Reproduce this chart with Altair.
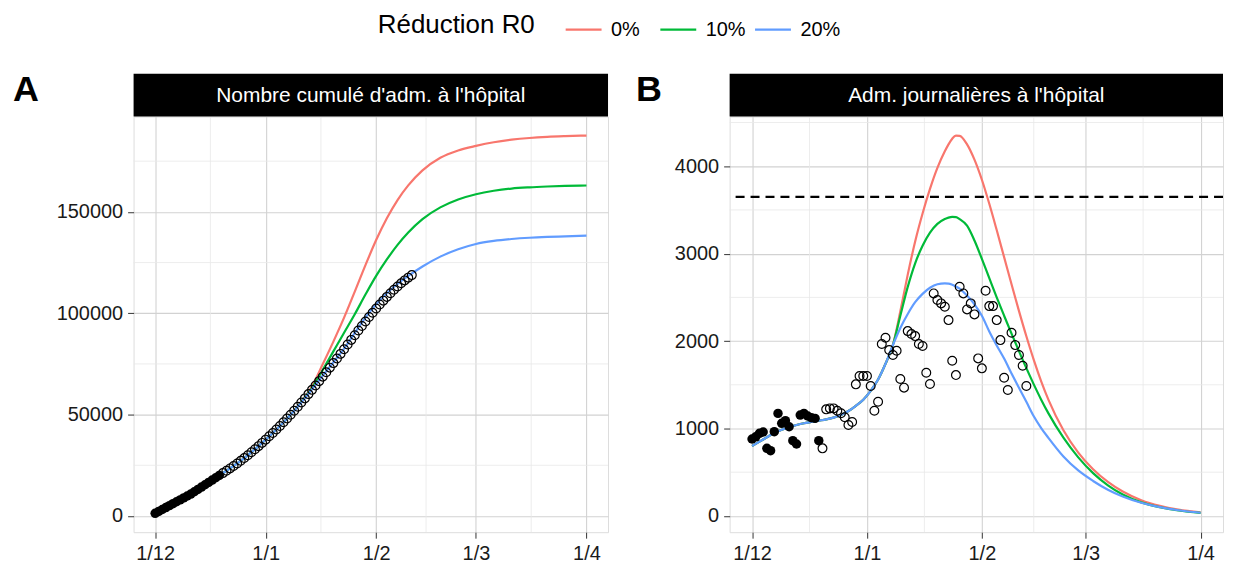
import altair as alt
import pandas as pd

FONT = "Liberation Sans, Arial, Helvetica, sans-serif"
START = pd.Timestamp("2020-12-01")

SCENARIOS = ["0%", "10%", "20%"]
COLORS = ["#F8766D", "#00BA38", "#619CFF"]

# ---------------- Panel B : daily hospital admissions (observed) ----------------
daily_filled = [880, 905, 945, 960, 773, 746, 964, 1173, 1059, 1090, 1020, 861, 823,
                1154, 1173, 1143, 1124, 1116, 861]
daily_open = [773, 1219, 1230, 1230, 1203, 1174, 1128, 1040, 1074, 1505, 1600, 1600,
              1600, 1486, 1203, 1306, 1966, 2038, 1897, 1840, 1890, 1566, 1467, 2114,
              2080, 2057, 1966, 1943, 1638, 1509, 2545, 2469, 2431, 2392, 2240, 1775,
              1611, 2621, 2545, 2362, 2431, 2305, 1802, 1688, 2575, 2400, 2400, 2240,
              2011, 1581, 1440, 2095, 1954, 1840, 1718, 1486]

# ---------------- Panel B : model curves (daily) ----------------
b_days_shared = [0, 2, 4, 6, 8, 10, 12, 14, 16, 18, 20, 22, 24, 26, 28, 30, 32, 34, 36, 38]
b_shared = [800, 850, 900, 950, 985, 1015, 1040, 1060, 1075, 1090, 1105, 1125, 1155,
            1200, 1260, 1330, 1430, 1560, 1740, 1955]
b_days_late = [40, 42, 44, 46, 48, 50, 52, 53, 54, 55, 56, 58, 60, 62, 64, 66, 68, 70,
               72, 74, 76, 78, 80, 84, 88, 92, 96, 100, 105, 110, 115, 121]
b_red = [2340, 2760, 3140, 3460, 3740, 3980, 4170, 4250, 4315, 4350, 4348, 4250, 4075,
         3845, 3570, 3270, 2960, 2650, 2345, 2055, 1785, 1540, 1325, 980, 725, 535, 390,
         280, 180, 115, 72, 40]
b_green = [2290, 2620, 2890, 3090, 3240, 3340, 3395, 3412, 3420, 3418, 3395, 3320, 3150,
           2940, 2720, 2500, 2290, 2085, 1885, 1690, 1505, 1330, 1170, 895, 670, 490,
           350, 245, 155, 100, 62, 34]
b_blue = [2150, 2310, 2445, 2540, 2610, 2650, 2660, 2658, 2645, 2625, 2600, 2520, 2420,
          2290, 2110, 1950, 1800, 1630, 1465, 1305, 1140, 1005, 890, 680, 520, 400, 300,
          222, 150, 100, 65, 36]
threshold_b = [3650]

# ---------------- Panel A : cumulative admissions (observed) ----------------
cum_obs = [1300, 2250, 3200, 4150, 5100, 6050, 7000, 7950, 8900, 9850, 10800, 11950,
           13100, 14250, 15400, 16550, 17700, 18850, 20000, 21150, 22300, 23450, 24650,
           25900, 27200, 28550, 29950, 31400, 32900, 34450, 36050, 37650, 39300, 40950,
           42650, 44400, 46200, 48050, 49950, 51900, 53900, 55950, 58000, 60100, 62200,
           64350, 66500, 68700, 70900, 73150, 75400, 77650, 79950, 82250, 84550, 86850,
           89150, 91450, 93700, 95950, 98150, 100250, 102300, 104300, 106200, 108050,
           109850, 111550, 113200, 114750, 116200, 117550, 118800]
n_filled = 19

# ---------------- Panel A : model curves (cumulative) ----------------
a_days_shared = [0, 5, 10, 15, 20, 25, 30, 35, 38]
a_shared = [1300, 6050, 10800, 16550, 22300, 28550, 36050, 44400, 49950]
a_days_late = [41, 44, 47, 50, 53, 56, 59, 62, 65, 68, 71, 75, 80, 85, 90, 95, 100, 105,
               110, 115, 121]
a_red = [56500, 64000, 74800, 86000, 97800, 110650, 123730, 136090, 146830, 155830,
         163030, 170430, 176680, 180280, 182530, 184330, 185580, 186430, 186980, 187330,
         187630]
a_green = [56300, 63200, 72000, 81200, 90400, 99500, 109200, 118400, 126500, 133700,
           139800, 146400, 152200, 156100, 158700, 160400, 161500, 162100, 162500,
           162800, 163000]
a_blue = [56000, 62500, 69200, 75800, 82500, 90300, 97900, 104400, 109860, 114420,
          118380, 123060, 127910, 131560, 134160, 135660, 136610, 137235, 137635,
          137910, 138300]

# ---------------- axes helpers ----------------
x_tick_dates = ["2020-12-01", "2021-01-01", "2021-02-01", "2021-03-01", "2021-04-01"]
x_minor_dates = ["2020-12-16T12:00:00Z", "2021-01-16T12:00:00Z", "2021-02-15T00:00:00Z",
                 "2021-03-16T12:00:00Z"]
x_domain_dates = ["2020-11-24T22:48:00Z", "2021-04-07T01:12:00Z"]
a_y_ticks = [0, 50000, 100000, 150000]
a_y_minor = [25000, 75000, 125000, 175000]
a_y_domain = [-8000, 197000]
b_y_ticks = [0, 1000, 2000, 3000, 4000]
b_y_minor = [500, 1500, 2500, 3500, 4500]
b_y_domain = [-186, 4568]


def ms(s):
    t = pd.Timestamp(s)
    if t.tzinfo is None:
        t = t.tz_localize("UTC")
    return int(t.timestamp() * 1000)


def to_dates(days):
    return [(START + pd.Timedelta(days=int(d))).strftime("%Y-%m-%d") for d in days]


def model_frame(days_shared, shared, days_late, series):
    rows = []
    for name, vals in zip(SCENARIOS, series):
        for d, v in zip(days_shared, shared):
            rows.append({"date": to_dates([d])[0], "value": v, "scenario": name})
        for d, v in zip(days_late, vals):
            rows.append({"date": to_dates([d])[0], "value": v, "scenario": name})
    return pd.DataFrame(rows)


GRID_MAJOR = "#d2d2d2"
GRID_MINOR = "#e9e9e9"
H = 417

legend = alt.Legend(
    orient="none", legendX=245, legendY=-107, direction="horizontal",
    titleOrient="left", titleFontSize=26, titleFontWeight="normal", titleColor="black",
    titleFont=FONT, labelFontSize=20, labelFont=FONT, labelColor="black",
    symbolType="stroke", symbolSize=1296, symbolStrokeWidth=2.2, labelOffset=8,
    columnPadding=4, gridAlign="all", titlePadding=29, padding=0,
)


def panel(letter, strip, W, obs_vals, model_df, y_ticks, y_minor, y_domain, hline=None):
    xscale = alt.Scale(type="utc", domain=[ms(d) for d in x_domain_dates], nice=False)
    yscale = alt.Scale(domain=y_domain, nice=False, zero=False)
    xaxis = alt.Axis(values=[ms(d) for d in x_tick_dates], format="%-d/%-m", title=None,
                     labelFontSize=20, labelFont=FONT, labelColor="#1a1a1a",
                     tickSize=6, tickColor="#333333", labelPadding=5, domain=False,
                     grid=True, gridColor=GRID_MAJOR, gridWidth=1.1, labelFlush=False,
                     labelOverlap=False)
    yaxis = alt.Axis(values=y_ticks, format="d", title=None, labelFontSize=20,
                     labelFont=FONT, labelColor="#1a1a1a", tickSize=6,
                     tickColor="#333333", labelPadding=5, domain=False, grid=True,
                     gridColor=GRID_MAJOR, gridWidth=1.1)

    minor_x = alt.Chart(pd.DataFrame({"date": x_minor_dates})).mark_rule(
        color=GRID_MINOR, strokeWidth=0.8).encode(
        x=alt.X("date:T", scale=xscale, axis=xaxis))
    minor_y = alt.Chart(pd.DataFrame({"value": y_minor})).mark_rule(
        color=GRID_MINOR, strokeWidth=0.8).encode(
        y=alt.Y("value:Q", scale=yscale, axis=yaxis))

    lines = alt.Chart(model_df).mark_line(strokeWidth=2.2, interpolate="monotone").encode(
        x=alt.X("date:T", scale=xscale, axis=xaxis),
        y=alt.Y("value:Q", scale=yscale, axis=yaxis),
        color=alt.Color("scenario:N", scale=alt.Scale(domain=SCENARIOS, range=COLORS),
                        title="Réduction R0", legend=legend),
    )

    n = len(obs_vals)
    days = list(range(n))
    obs = pd.DataFrame({"date": to_dates(days), "value": obs_vals,
                        "filled": [d < n_filled for d in days]})
    pts_open = alt.Chart(obs[~obs["filled"]]).mark_point(
        shape="circle", filled=False, color="black", size=78, strokeWidth=1.2,
        opacity=1).encode(x=alt.X("date:T", scale=xscale, axis=xaxis),
                          y=alt.Y("value:Q", scale=yscale, axis=yaxis))
    pts_filled = alt.Chart(obs[obs["filled"]]).mark_point(
        shape="circle", filled=True, color="black", size=90, opacity=1).encode(
        x=alt.X("date:T", scale=xscale, axis=xaxis),
        y=alt.Y("value:Q", scale=yscale, axis=yaxis))

    strip_rect = alt.Chart(pd.DataFrame({"label": [strip]})).mark_rect(
        color="black").encode(x=alt.value(0), x2=alt.value(W), y=alt.value(-43),
                              y2=alt.value(0))
    strip_text = alt.Chart(pd.DataFrame({"label": [strip]})).mark_text(
        color="white", fontSize=21, font=FONT, baseline="middle", align="center").encode(
        x=alt.value(W / 2), y=alt.value(-21), text="label:N")
    letter_text = alt.Chart(pd.DataFrame({"label": [letter]})).mark_text(
        color="black", fontSize=36, font=FONT, fontWeight="bold", align="left",
        baseline="alphabetic").encode(
        x=alt.value(-121 if letter == "A" else -94), y=alt.value(-16), text="label:N")

    layers = [minor_x, minor_y, lines]
    if hline is not None:
        hl = alt.Chart(pd.DataFrame({"value": hline})).mark_rule(
            color="black", strokeWidth=2.2, strokeDash=[9, 6]).encode(
            y=alt.Y("value:Q", scale=yscale, axis=yaxis))
        layers.append(hl)
    layers += [pts_filled, pts_open, strip_rect, strip_text, letter_text]
    return alt.layer(*layers).properties(width=W, height=H)


model_a = model_frame(a_days_shared, a_shared, a_days_late, [a_red, a_green, a_blue])
model_b = model_frame(b_days_shared, b_shared, b_days_late, [b_red, b_green, b_blue])

pA = panel("A", "Nombre cumulé d'adm. à l'hôpital", 476, cum_obs, model_a,
           a_y_ticks, a_y_minor, a_y_domain)
pB = panel("B", "Adm. journalières à l'hôpital", 495,
           daily_filled + daily_open, model_b, b_y_ticks, b_y_minor, b_y_domain,
           hline=threshold_b)

chart = alt.hconcat(pA, pB, spacing=26).resolve_scale(
    x="independent", y="independent", color="shared"
).properties(
    padding={"left": 4, "top": 1, "right": 0, "bottom": 0}
).configure_view(
    stroke="#1a1a1a", strokeWidth=1.2
).configure(font=FONT, background="white")

chart.save("out.html", embed_options={"renderer": "svg", "actions": False})
